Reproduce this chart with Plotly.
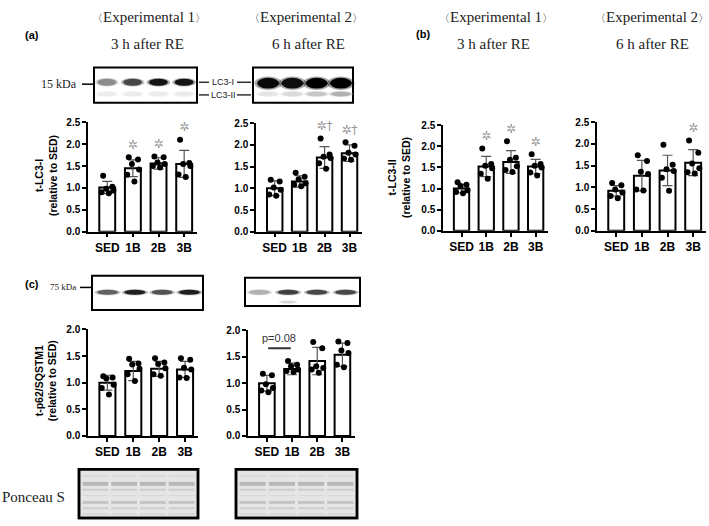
import plotly.graph_objects as go

W, H = 709, 526
GROUPS = ['SED', '1B', '2B', '3B']

# ---- values: bar mean, SD, individual animals, significance ----
LC3I_EXP1_MEAN = [1.01, 1.45, 1.56, 1.55]
LC3I_EXP1_SD = [0.14, 0.19, 0.13, 0.31]
LC3I_EXP1_PTS = [[1.28, 1.03, 0.98, 0.94, 0.90, 0.88],
                 [1.70, 1.65, 1.55, 1.42, 1.30, 1.15],
                 [1.72, 1.70, 1.58, 1.55, 1.50, 1.47],
                 [2.10, 1.57, 1.55, 1.50, 1.31, 1.25]]
LC3I_EXP1_SIG = ['', '✲', '✲', '✲']

LC3I_EXP2_MEAN = [1.00, 1.16, 1.71, 1.81]
LC3I_EXP2_SD = [0.17, 0.13, 0.25, 0.19]
LC3I_EXP2_PTS = [[1.20, 1.16, 1.02, 0.97, 0.86, 0.83],
                 [1.36, 1.27, 1.21, 1.12, 1.08, 1.05],
                 [2.15, 1.78, 1.73, 1.70, 1.58, 1.45],
                 [2.06, 1.98, 1.82, 1.78, 1.69, 1.66]]
LC3I_EXP2_SIG = ['', '', '✲†', '✲†']

LC3II_EXP1_MEAN = [1.00, 1.52, 1.63, 1.52]
LC3II_EXP1_SD = [0.10, 0.24, 0.27, 0.17]
LC3II_EXP1_PTS = [[1.15, 1.09, 1.06, 0.96, 0.92, 0.89],
                  [1.95, 1.58, 1.54, 1.48, 1.35, 1.23],
                  [2.12, 1.73, 1.68, 1.53, 1.44, 1.39],
                  [1.81, 1.58, 1.54, 1.50, 1.38, 1.31]]
LC3II_EXP1_SIG = ['', '✲', '✲', '✲']

LC3II_EXP2_MEAN = [0.92, 1.27, 1.39, 1.57]
LC3II_EXP2_SD = [0.12, 0.35, 0.35, 0.30]
LC3II_EXP2_PTS = [[1.10, 1.05, 0.95, 0.88, 0.80, 0.75],
                  [1.74, 1.61, 1.36, 1.31, 0.95, 0.93],
                  [1.98, 1.52, 1.42, 1.38, 1.22, 0.92],
                  [2.08, 1.80, 1.55, 1.44, 1.35, 1.32]]
LC3II_EXP2_SIG = ['', '', '', '✲']

P62_EXP1_MEAN = [1.00, 1.22, 1.26, 1.25]
P62_EXP1_SD = [0.14, 0.18, 0.14, 0.15]
P62_EXP1_PTS = [[1.12, 1.10, 1.08, 0.96, 0.90, 0.78],
                [1.45, 1.36, 1.34, 1.26, 1.16, 1.03],
                [1.46, 1.38, 1.35, 1.27, 1.16, 1.13],
                [1.46, 1.43, 1.28, 1.25, 1.10, 1.09]]
P62_EXP1_SIG = ['', '', '', '']

P62_EXP2_MEAN = [1.00, 1.27, 1.42, 1.54]
P62_EXP2_SD = [0.15, 0.11, 0.26, 0.22]
P62_EXP2_PTS = [[1.18, 1.15, 0.98, 0.91, 0.86, 0.83],
                [1.42, 1.35, 1.32, 1.26, 1.23, 1.21],
                [1.78, 1.66, 1.32, 1.29, 1.26, 1.20],
                [1.79, 1.76, 1.62, 1.57, 1.35, 1.30]]
P62_EXP2_SIG = ['', '', '✲', '✲']

# blot band darkness per lane (0 = white, 1 = black)
LC3I_BAND_EXP1 = [0.45, 0.72, 0.92, 0.92]
LC3I_BAND_EXP2 = [0.97, 0.95, 1.0, 1.0]
LC3II_BAND_EXP1 = [0.07, 0.08, 0.08, 0.08]
LC3II_BAND_EXP2 = [0.1, 0.14, 0.22, 0.3]
P62_BAND_EXP1 = [0.62, 0.88, 0.68, 0.88]
P62_BAND_EXP2 = [0.3, 0.75, 0.72, 0.72]

# jitter pattern for the dots (style only)
JITTER = [-0.16, 0.2, -0.04, 0.24, -0.22, 0.06]


def px(x):
    return x / W


def py(y):
    return 1 - y / H


# pixel frames of the six bar charts
panels = [
    dict(mean=LC3I_EXP1_MEAN, sd=LC3I_EXP1_SD, pts=LC3I_EXP1_PTS, sig=LC3I_EXP1_SIG,
         x0=88, x1=197, ytop=119, ybot=231, ymax=2.5),
    dict(mean=LC3I_EXP2_MEAN, sd=LC3I_EXP2_SD, pts=LC3I_EXP2_PTS, sig=LC3I_EXP2_SIG,
         x0=256, x1=362, ytop=120, ybot=231, ymax=2.5),
    dict(mean=LC3II_EXP1_MEAN, sd=LC3II_EXP1_SD, pts=LC3II_EXP1_PTS, sig=LC3II_EXP1_SIG,
         x0=443, x1=548, ytop=122, ybot=230, ymax=2.5),
    dict(mean=LC3II_EXP2_MEAN, sd=LC3II_EXP2_SD, pts=LC3II_EXP2_PTS, sig=LC3II_EXP2_SIG,
         x0=597, x1=706, ytop=119, ybot=230, ymax=2.5),
    dict(mean=P62_EXP1_MEAN, sd=P62_EXP1_SD, pts=P62_EXP1_PTS, sig=P62_EXP1_SIG,
         x0=88, x1=198, ytop=331, ybot=440, ymax=2.0),
    dict(mean=P62_EXP2_MEAN, sd=P62_EXP2_SD, pts=P62_EXP2_PTS, sig=P62_EXP2_SIG,
         x0=248, x1=355, ytop=332, ybot=440, ymax=2.0),
]

fig = go.Figure()
layout = {}
AX_FONT = 'Liberation Sans, Arial, sans-serif'

for k, p in enumerate(panels):
    n = '' if k == 0 else str(k + 1)
    xa, ya = 'x' + n, 'y' + n
    xs = list(range(len(GROUPS)))

    fig.add_trace(go.Bar(
        x=xs, y=p['mean'], xaxis=xa, yaxis=ya, width=0.62,
        marker=dict(color='white', line=dict(color='black', width=2)),
        error_y=dict(type='data', array=p['sd'], visible=True,
                     color='#555555', thickness=1.2, width=5),
    ))

    dx, dy = [], []
    for i, vals in enumerate(p['pts']):
        for j, v in enumerate(vals):
            dx.append(i + JITTER[j % len(JITTER)])
            dy.append(v)
    fig.add_trace(go.Scatter(
        x=dx, y=dy, xaxis=xa, yaxis=ya, mode='markers',
        marker=dict(color='black', size=6), cliponaxis=False,
    ))

    sx, sy, st = [], [], []
    for i, s in enumerate(p['sig']):
        if s:
            sx.append(i)
            sy.append(max(max(p['pts'][i]), p['mean'][i] + p['sd'][i]) + 0.26)
            st.append(s)
    if sx:
        fig.add_trace(go.Scatter(
            x=sx, y=sy, xaxis=xa, yaxis=ya, mode='text', text=st,
            textposition='middle center', cliponaxis=False,
            textfont=dict(color='#999999', size=12, family='DejaVu Sans'),
        ))

    layout['xaxis' + n] = dict(
        domain=[px(p['x0']), px(p['x1'])], anchor=ya, range=[-0.75, 3.5],
        tickvals=xs, ticktext=GROUPS, ticks='outside', ticklen=4, tickwidth=1.5,
        tickcolor='black', showline=True, linecolor='black', linewidth=1.5,
        showgrid=False, zeroline=False,
        tickfont=dict(family=AX_FONT, size=12, color='black', weight='bold'),
    )
    layout['yaxis' + n] = dict(
        domain=[py(p['ybot']), py(p['ytop'])], anchor=xa, range=[0, p['ymax']],
        dtick=0.5, tickformat='.1f', ticks='outside', ticklen=4, tickwidth=1.5,
        tickcolor='black', showline=True, linecolor='black', linewidth=1.5,
        showgrid=False, zeroline=False,
        tickfont=dict(family=AX_FONT, size=10, color='black', weight='bold'),
    )

shapes = []
annotations = []


def text(x, y, s, size, family='Liberation Serif, Times New Roman, serif',
         bold=False, anchor='center', color='#222222', angle=0):
    annotations.append(dict(
        x=px(x), y=py(y), xref='paper', yref='paper', text=s, showarrow=False,
        xanchor=anchor, yanchor='middle', textangle=angle,
        font=dict(family=family, size=size, color=color,
                  weight='bold' if bold else 'normal'),
    ))


def line(x0, y0, x1, y1, width=1.5, color='black'):
    shapes.append(dict(type='line', xref='paper', yref='paper',
                       x0=px(x0), y0=py(y0), x1=px(x1), y1=py(y1),
                       line=dict(color=color, width=width)))


def box(x0, y0, x1, y1, fill='white', width=2):
    shapes.append(dict(type='rect', xref='paper', yref='paper',
                       x0=px(x0), y0=py(y1), x1=px(x1), y1=py(y0),
                       fillcolor=fill, line=dict(color='black', width=width)))


def grey(d):
    g = int(round(255 * (1 - d)))
    return f'rgb({g},{g},{g})'


def bands(x0, x1, cy, dark, w, h):
    step = (x1 - x0) / len(dark)
    for i, d in enumerate(dark):
        cx = x0 + (i + 0.5) * step
        for sc, op in ((1.25, 0.35), (1.0, 1.0)):
            shapes.append(dict(type='circle', xref='paper', yref='paper',
                               x0=px(cx - w * sc / 2), x1=px(cx + w * sc / 2),
                               y0=py(cy + h * sc / 2), y1=py(cy - h * sc / 2),
                               fillcolor=grey(d), opacity=op, line=dict(width=0)))


# ---- headings ----
BR = '<span style="font-size:11px">{}</span>'
for cx, s in ((149, 'Experimental 1'), (306, 'Experimental 2'),
              (496, 'Experimental 1'), (652, 'Experimental 2')):
    text(cx, 11, BR.format('〈') + s + BR.format('〉'), 15)
for cx, s in ((147, '3 h after RE'), (308, '6 h after RE'),
              (493, '3 h after RE'), (652, '6 h after RE')):
    text(cx, 39, s, 15)
text(32, 30, '(a)', 11, family=AX_FONT, bold=True, color='black')
text(423, 29, '(b)', 11, family=AX_FONT, bold=True, color='black')
text(32, 285, '(c)', 11, family=AX_FONT, bold=True, color='black')

# y titles
text(46, 174, 't-LC3-I<br>(relative to SED)', 10.5, family=AX_FONT, bold=True,
     color='black', angle=-90)
text(399, 176, 't-LC3-II<br>(relative to SED)', 10.5, family=AX_FONT, bold=True,
     color='black', angle=-90)
text(46, 384, 't-p62/SQSTM1<br>(relative to SED)', 10.5, family=AX_FONT, bold=True,
     color='black', angle=-90)

# ---- LC3 blots ----
box(94, 63, 197, 99)
box(253, 63, 353, 99)
bands(94, 197, 78, LC3I_BAND_EXP1, 19, 7)
bands(94, 197, 90, LC3II_BAND_EXP1, 19, 5)
bands(256, 353, 79, LC3I_BAND_EXP2, 22, 11)
bands(256, 353, 90, LC3II_BAND_EXP2, 20, 5)
text(79, 80, '15 kDa', 12, anchor='right')
line(82, 80, 94, 80)
line(199, 78, 209, 78, 1.2)
line(237, 78, 251, 78, 1.2)
line(199, 91, 209, 91, 1.2)
line(237, 91, 251, 91, 1.2)
text(223, 78, 'LC3-I', 9, family=AX_FONT)
text(223, 91, 'LC3-II', 9, family=AX_FONT)

# ---- p62 blots ----
box(92, 276, 203, 311)
box(245, 278, 360, 307)
bands(94, 203, 293, P62_BAND_EXP1, 21, 5)
bands(245, 360, 293, P62_BAND_EXP2, 21, 5)
bands(245, 360, 303, [0, 0.15, 0, 0], 16, 3)
text(78, 288, '75 kDa', 9, anchor='right')
line(80, 288, 92, 288)

# p = 0.08 bracket on the last panel
shapes.append(dict(type='line', xref='x6', yref='y6', x0=0.05, x1=0.95,
                   y0=1.66, y1=1.66, line=dict(color='#333333', width=2)))
annotations.append(dict(x=0.5, y=1.70, xref='x6', yref='y6', text='p=0.08',
                        showarrow=False, yanchor='bottom',
                        font=dict(family=AX_FONT, size=11, color='#333333')))

# ---- Ponceau S ----
text(33, 502, 'Ponceau S', 15)
ROWS = [(481, 1.5, '#d6d6d6'), (489, 4, '#b8b8b8'), (495, 2, '#cbcbcb'),
        (501, 1, '#d8d8d8'), (508, 3, '#c4c4c4'), (514, 2, '#cdcdcd'),
        (520, 2, '#d7d7d7')]
for bx0, bx1 in ((79, 198), (236, 357)):
    box(bx0, 474, bx1, 524, fill='#e5e5e5', width=2.5)
    step = (bx1 - bx0 - 4) / 4
    for i in range(4):
        lx0 = bx0 + 2 + i * step + 1.5
        lx1 = lx0 + step - 3
        for yy, th, col in ROWS:
            shapes.append(dict(type='rect', xref='paper', yref='paper',
                               x0=px(lx0), x1=px(lx1), y0=py(yy + th / 2), y1=py(yy - th / 2),
                               fillcolor=col, line=dict(width=0)))
    box(bx0, 474, bx1, 524, fill='rgba(0,0,0,0)', width=2.5)

fig.update_layout(
    width=W, height=H, autosize=False,
    margin=dict(l=0, r=0, t=0, b=0, pad=0),
    paper_bgcolor='white', plot_bgcolor='white',
    showlegend=False, bargap=0.3,
    shapes=shapes, annotations=annotations,
    **layout,
)

fig.write_html("out.html", config={'displayModeBar': False},
               post_script="document.body.style.margin='0';")
